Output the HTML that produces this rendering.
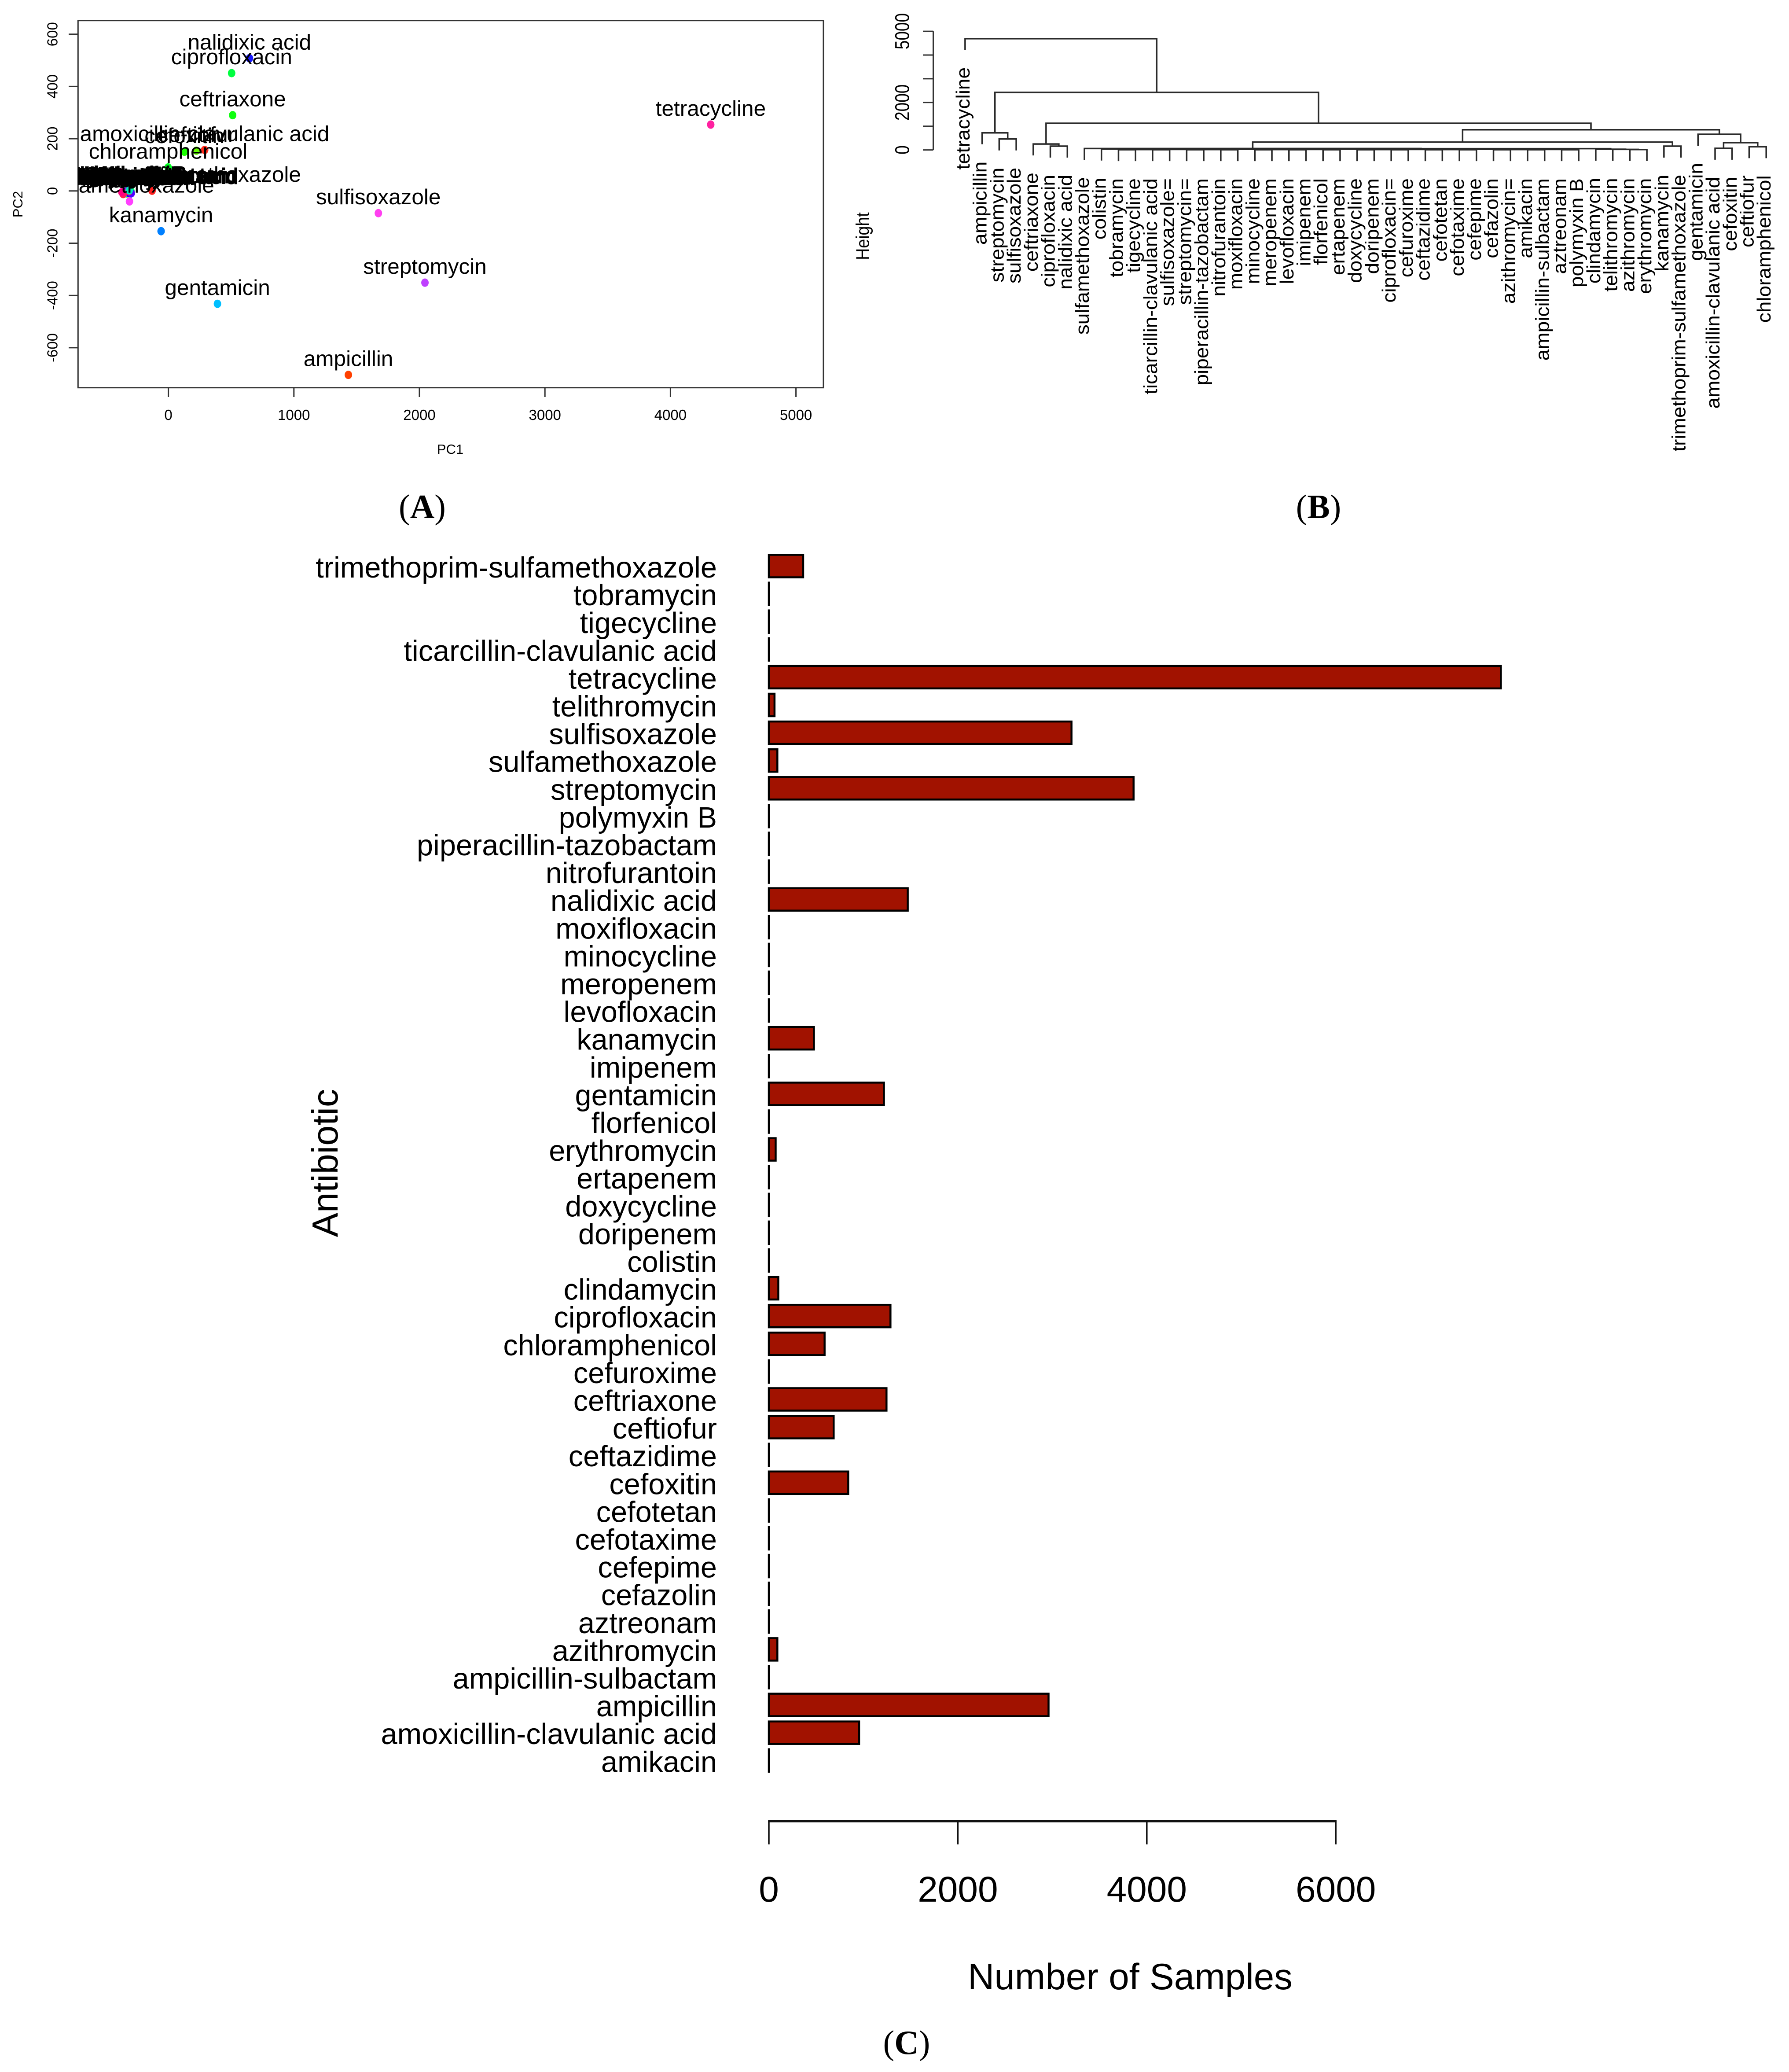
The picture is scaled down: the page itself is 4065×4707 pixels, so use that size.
<!DOCTYPE html>
<html lang="en">
<head>
<meta charset="utf-8">
<title>Antibiotic resistance PCA, dendrogram and sample counts</title>
<style>
  html, body { margin: 0; padding: 0; background: #fff; }
  svg { display: block; }
  text { font-family: "Liberation Sans", Arial, sans-serif; fill: #000; }
  .cap { font-family: "Liberation Serif", "Times New Roman", serif; font-size: 77px; }
  .cap .b { font-weight: bold; }
</style>
</head>
<body>
<svg id="figure" xmlns="http://www.w3.org/2000/svg" width="4065" height="4707" viewBox="0 0 4065 4707">
  <rect x="0" y="0" width="4065" height="4707" fill="#fff"/>
  <defs>
    <clipPath id="pcaClip"><rect x="177" y="46.7" width="1694" height="834"/></clipPath>
  </defs>
  <g id="panelA">
    <rect x="177.3" y="46.7" width="1693.7" height="834" fill="none" stroke="#333" stroke-width="3"/>
    <text x="1023" y="1031" font-size="31" text-anchor="middle">PC1</text>
    <text transform="translate(51,464) rotate(-90)" font-size="31" text-anchor="middle">PC2</text>
    <g id="pcaTicks"></g>
    <g id="pcaPoints" clip-path="url(#pcaClip)"></g>
    <g id="pcaLabels" clip-path="url(#pcaClip)"></g>
  </g>
  <g id="panelB">
    <text transform="translate(1974.5,536.6) rotate(-90) scale(1,1.12)" font-size="37.6" text-anchor="middle">Height</text>
    <g id="dendroAxis"></g>
    <g id="dendroLinks"></g>
    <g id="dendroLabels"></g>
  </g>
  <g id="panelC">
    <text transform="translate(767,2642) rotate(-90)" font-size="83" text-anchor="middle">Antibiotic</text>
    <text x="2568" y="4519" font-size="83.5" text-anchor="middle">Number of Samples</text>
    <g id="barGroup"></g>
    <g id="barLabels"></g>
    <g id="barAxis"></g>
  </g>
  <text class="cap" x="959.5" y="1177" text-anchor="middle">(<tspan class="b">A</tspan>)</text>
  <text class="cap" x="2996" y="1177" text-anchor="middle">(<tspan class="b">B</tspan>)</text>
  <text class="cap" x="2060" y="4666" text-anchor="middle">(<tspan class="b">C</tspan>)</text>
</svg>
<script>
/* ---------- Panel A data ---------- */
const pcaNames = ["amikacin","amoxicillin-clavulanic acid","ampicillin","ampicillin-sulbactam","azithromycin","aztreonam","cefazolin","cefepime","cefotaxime","cefotetan","cefoxitin","ceftazidime","ceftiofur","ceftriaxone","cefuroxime","chloramphenicol","ciprofloxacin","clindamycin","colistin","doripenem","doxycycline","ertapenem","erythromycin","florfenicol","gentamicin","imipenem","kanamycin","levofloxacin","meropenem","minocycline","moxifloxacin","nalidixic acid","nitrofurantoin","piperacillin-tazobactam","polymyxin B","streptomycin","sulfamethoxazole","sulfisoxazole","telithromycin","tetracycline","ticarcillin-clavulanic acid","tigecycline","tobramycin","trimethoprim-sulfamethoxazole"];
const pc1Values = [-318,289,1434,-322,-305,-312,-325,-300,-316,-330,128,-308,223,512,-320,-2,504,-298,-335,-314,-310,-326,-306,-340,391,-328,-58,-302,-324,-312,-318,646,-296,-350,-320,2044,-310,1673,-360,4321,-370,-315,-312,-130];
const pc2Values = [1,157,-704,-3,-8,-5,0,-6,-2,-10,150,-4,154,290,-7,90,451,-1,-9,-3,-6,-1,-5,-8,-432,0,-154,-10,-4,-2,-7,508,-9,-3,2,-351,-40,-85,-12,254,-5,-1,2,1];
const pointColors = ["#ff0000","#ff2a1a","#ff4000","#ff6000","#ff8a00","#ffa800","#ffc800","#ffe800","#f0ff00","#d0ff00","#1aff00","#90ff00","#66ff00","#10ff10","#00ff10","#00ff20","#00ff40","#00ff60","#00ff90","#00ffb0","#00ffd0","#00fff0","#00e0d0","#00d8ff","#00bfff","#00a0ff","#0080ff","#0060ff","#0040ff","#0020ff","#1000ff","#1a1aff","#5000ff","#7000ff","#a000ff","#bf40ff","#ff40ff","#ff40f0","#ff2050","#ff20a0","#ff0080","#ff0060","#00e8c0","#ff2020"];
const pcaXTicks = [0,1000,2000,3000,4000,5000];
const pcaYTicks = [-600,-400,-200,0,200,400,600];

/* ---------- Panel B data ---------- */
const leafNames = ["tetracycline","ampicillin","streptomycin","sulfisoxazole","ceftriaxone","ciprofloxacin","nalidixic acid","sulfamethoxazole","colistin","tobramycin","tigecycline","ticarcillin-clavulanic acid","sulfisoxazole=","streptomycin=","piperacillin-tazobactam","nitrofurantoin","moxifloxacin","minocycline","meropenem","levofloxacin","imipenem","florfenicol","ertapenem","doxycycline","doripenem","ciprofloxacin=","cefuroxime","ceftazidime","cefotetan","cefotaxime","cefepime","cefazolin","azithromycin=","amikacin","ampicillin-sulbactam","aztreonam","polymyxin B","clindamycin","telithromycin","azithromycin","erythromycin","kanamycin","trimethoprim-sulfamethoxazole","gentamicin","amoxicillin-clavulanic acid","cefoxitin","ceftiofur","chloramphenicol"];
/* each node: [height, left, right]; a plain number is a leaf index */
const flatLeftCluster = [25,
  [20,[15,[8,9,10],[8,11,12]],[15,[8,13,14],[8,15,16]]],
  [20,[15,[8,17,18],[8,19,20]],[8,21,22]]];
const flatRightCluster = [25,
  [20,[15,[8,23,24],[8,25,26]],[15,[8,27,28],[8,29,30]]],
  [20,[15,[8,31,32],[8,33,34]],[8,35,36]]];
const macrolideCluster = [30,37,[22,38,[15,39,40]]];
const flatCluster = [60,7,[55,[35,8,[30,flatLeftCluster,flatRightCluster]],macrolideCluster]];
const dendroTree = [4688,0,[2425,
  [720,1,[460,2,3]],
  [1124,
    [250,4,[160,5,6]],
    [850,
      [330,flatCluster,[160,41,42]],
      [660,43,[305,[70,44,45],[135,46,47]]]]]]];
const dendroTicks = [0,1000,2000,3000,4000,5000];
const dendroTickLabels = ["0","","2000","","","5000"];

/* ---------- Panel C data ---------- */
const barCategories = ["trimethoprim-sulfamethoxazole","tobramycin","tigecycline","ticarcillin-clavulanic acid","tetracycline","telithromycin","sulfisoxazole","sulfamethoxazole","streptomycin","polymyxin B","piperacillin-tazobactam","nitrofurantoin","nalidixic acid","moxifloxacin","minocycline","meropenem","levofloxacin","kanamycin","imipenem","gentamicin","florfenicol","erythromycin","ertapenem","doxycycline","doripenem","colistin","clindamycin","ciprofloxacin","chloramphenicol","cefuroxime","ceftriaxone","ceftiofur","ceftazidime","cefoxitin","cefotetan","cefotaxime","cefepime","cefazolin","aztreonam","azithromycin","ampicillin-sulbactam","ampicillin","amoxicillin-clavulanic acid","amikacin"];
const barValues = [363,3,3,3,7747,60,3203,90,3860,3,3,3,1470,3,3,3,3,477,3,1218,3,72,3,3,3,3,100,1287,590,3,1245,686,3,840,3,3,3,3,3,90,3,2960,955,3];
const barTicks = [0,2000,4000,6000];

/* ---------- helpers ---------- */
const NS = "http://www.w3.org/2000/svg";
function make(parentId, tag, attrs, text) {
  const el = document.createElementNS(NS, tag);
  for (const k in attrs) el.setAttribute(k, attrs[k]);
  if (text !== undefined) el.textContent = text;
  document.getElementById(parentId).appendChild(el);
  return el;
}
function slug(s) { return s.toLowerCase().replace(/[^a-z0-9]+/g, '-').replace(/-+$/, ''); }

/* ---------- Panel A ---------- */
const xA = v => 382.6 + v * 0.2852;
const yA = v => 433.8 - v * 0.5935;
pcaXTicks.forEach(v => {
  const t = make('pcaTicks', 'line', {x1:xA(v), x2:xA(v), y1:880.6, y2:902, stroke:'#333', 'stroke-width':3});
  
  
  const l = make('pcaTicks', 'text', {x:xA(v), y:954, 'font-size':33, 'text-anchor':'middle'}, String(v));
  
  
});
pcaYTicks.forEach(v => {
  const t = make('pcaTicks', 'line', {x1:156, x2:177.3, y1:yA(v), y2:yA(v), stroke:'#333', 'stroke-width':3});
  
  
  const l = make('pcaTicks', 'text', {transform:`translate(130.7,${yA(v)}) rotate(-90)`, 'font-size':33, 'text-anchor':'middle'}, String(v));
  
  
});
pcaNames.forEach((name, i) => {
  const px = xA(pc1Values[i]), py = yA(pc2Values[i]);
  const dot = make('pcaPoints', 'ellipse', {cx:px, cy:py, rx:8.5, ry:9.5, fill:pointColors[i]});
  
  
  const lab = make('pcaLabels', 'text', {x:px, y:py - 20, 'font-size':49.5, 'text-anchor':'middle'}, name);
  
  
  if (pc1Values[i] < -280 && pc2Values[i] > -11) {
    lab.setAttribute('stroke', '#000');
    lab.setAttribute('stroke-width', '2');
  }
});

/* ---------- Panel B ---------- */
const xB = i => 2192.9 + i * 38.73;
const yB = v => 340.6 - v * 0.0539;
const HANG = 26;
dendroTicks.forEach((v, i) => {
  const t = make('dendroAxis', 'line', {x1:2097, x2:2120.5, y1:yB(v), y2:yB(v), stroke:'#333', 'stroke-width':3});
  
  
  if (dendroTickLabels[i]) {
    const l = make('dendroAxis', 'text', {transform:`translate(2065.6,${yB(v)}) rotate(-90) scale(1,1.22)`, 'font-size':37, 'text-anchor':'middle'}, dendroTickLabels[i]);
    
    
  }
});
const dendroSpine = make('dendroAxis', 'line', {x1:2120.5, x2:2120.5, y1:yB(0), y2:yB(dendroTicks[dendroTicks.length - 1]), stroke:'#333', 'stroke-width':3});



function nodeX(n) { return typeof n === 'number' ? xB(n) : (nodeX(n[1]) + nodeX(n[2])) / 2; }
function drawNode(n) {
  const top = yB(n[0]);
  const lx = nodeX(n[1]), rx = nodeX(n[2]);
  const ends = [n[1], n[2]].map(c => typeof c === 'number' ? top + HANG : yB(c[0]));
  const link = make('dendroLinks', 'path', {d:`M${lx} ${ends[0]}V${top}H${rx}V${ends[1]}`, fill:'none', stroke:'#2a2a2a', 'stroke-width':3.5});
  
  
  [n[1], n[2]].forEach(c => {
    if (typeof c === 'number') {
      const lab = make('dendroLabels', 'text', {transform:`translate(${xB(c) + 10},${top + HANG + 39}) rotate(-90) scale(1,0.95)`, 'font-size':46, 'text-anchor':'end'}, leafNames[c]);
      
      
    } else {
      drawNode(c);
    }
  });
}
drawNode(dendroTree);

/* ---------- Panel C ---------- */
const xC = v => 1747 + v * 0.2147;
const yC = i => 1286 + i * 63.1;
barCategories.forEach((name, i) => {
  const bar = make('barGroup', 'rect', {x:xC(0), y:yC(i) - 25.5, width:xC(barValues[i]) - xC(0), height:51, fill:'#a11200', stroke:'#000', 'stroke-width':4.5});
  
  
  const lab = make('barLabels', 'text', {x:1629, y:yC(i) + 26, 'font-size':66.7, 'text-anchor':'end'}, name);
  
  
});
const barAxisLine = make('barAxis', 'line', {x1:xC(barTicks[0]) - 1.75, x2:xC(barTicks[barTicks.length - 1]) + 1.75, y1:4137.4, y2:4137.4, stroke:'#111', 'stroke-width':5});


barTicks.forEach(v => {
  const t = make('barAxis', 'line', {x1:xC(v), x2:xC(v), y1:4137, y2:4190, stroke:'#111', 'stroke-width':3.5});
  
  
  const l = make('barAxis', 'text', {x:xC(v), y:4320, 'font-size':82, 'text-anchor':'middle'}, String(v));
  
  
});
</script>
</body>
</html>
